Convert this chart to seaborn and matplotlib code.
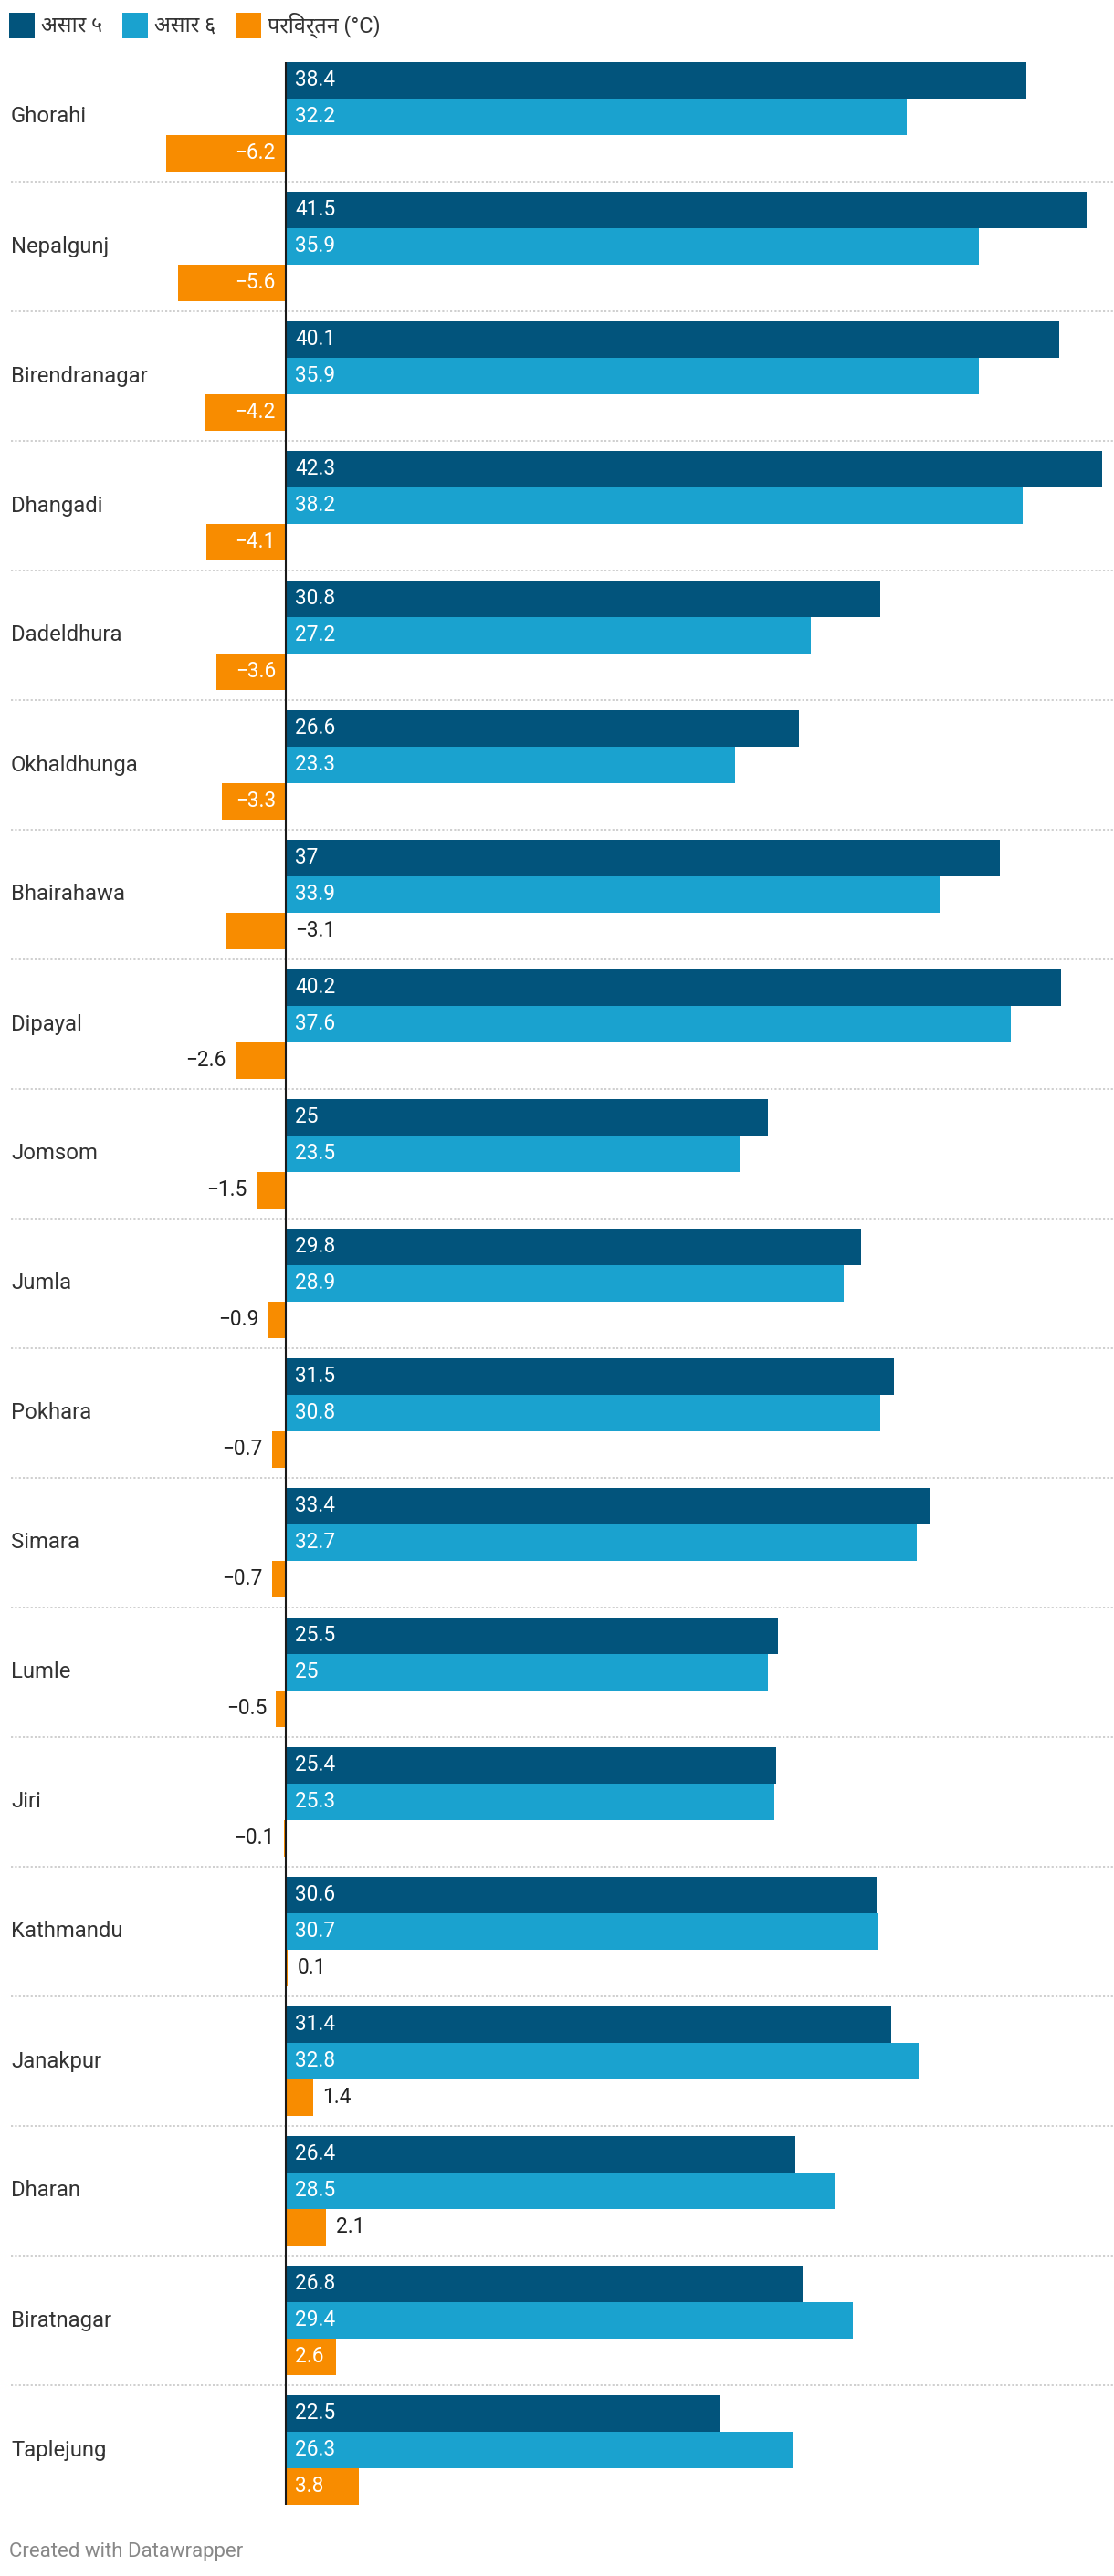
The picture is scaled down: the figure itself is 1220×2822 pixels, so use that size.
import matplotlib
matplotlib.use("Agg")
import matplotlib.pyplot as plt
from matplotlib.patches import Rectangle
import seaborn as sns
import pandas as pd

cities = ["Ghorahi", "Nepalgunj", "Birendranagar", "Dhangadi", "Dadeldhura", "Okhaldhunga",
          "Bhairahawa", "Dipayal", "Jomsom", "Jumla", "Pokhara", "Simara", "Lumle", "Jiri",
          "Kathmandu", "Janakpur", "Dharan", "Biratnagar", "Taplejung"]
asar5 = [38.4, 41.5, 40.1, 42.3, 30.8, 26.6, 37, 40.2, 25, 29.8, 31.5, 33.4, 25.5, 25.4,
         30.6, 31.4, 26.4, 26.8, 22.5]
asar6 = [32.2, 35.9, 35.9, 38.2, 27.2, 23.3, 33.9, 37.6, 23.5, 28.9, 30.8, 32.7, 25, 25.3,
         30.7, 32.8, 28.5, 29.4, 26.3]
change = [-6.2, -5.6, -4.2, -4.1, -3.6, -3.3, -3.1, -2.6, -1.5, -0.9, -0.7, -0.7, -0.5, -0.1,
          0.1, 1.4, 2.1, 2.6, 3.8]
series_names = ["असार ५", "असार ६", "परिवर्तन (°C)"]
colors = ["#02547c", "#1aa2cf", "#f88c00"]
footer = "Created with Datawrapper"

sns.set_theme(style="white")
FONT = ["Roboto", "Noto Sans", "DejaVu Sans"]
plt.rcParams["font.family"] = FONT

rows = []
for s, vals in zip(series_names, [asar5, asar6, change]):
    for c, v in zip(cities, vals):
        rows.append({"city": c, "value": v, "series": s})
df = pd.DataFrame(rows)

W, H = 1220, 2822
fig = plt.figure(figsize=(W / 100, H / 100), dpi=100)
ax = fig.add_axes([0, 0, 1, 1])

sns.barplot(data=df, y="city", x="value", hue="series", hue_order=series_names,
            order=cities, orient="h", palette=colors, saturation=1, width=120 / 142,
            gap=0, legend=False, ax=ax, linewidth=0, edgecolor="none", errorbar=None)

zero_px = 313
scale = 21.13
ax.set_xlim(-zero_px / scale, (W - zero_px) / scale)
pitch = 142
c0 = 128
ax.set_ylim((H - c0) / pitch, -c0 / pitch)
ax.axis("off")

n = len(cities)
# separators
ax.hlines([i + 0.5 for i in range(n - 1)], (12 - zero_px) / scale, (W - zero_px) / scale,
          colors="#cccccc", linewidth=1.3, linestyles=(0, (1.2, 1.2)), zorder=0.5)

def fmt(v):
    s = f"{abs(v):g}"
    return ("\u2212" + s) if v < 0 else s

VFS = 16.3
for ci, cont in enumerate(ax.containers):
    for bar, v in zip(cont.patches, [asar5, asar6, change][ci]):
        yc = bar.get_y() + bar.get_height() / 2
        if ci < 2:
            ax.annotate(fmt(v), (0, yc), xytext=(7.5, 0), textcoords="offset points",
                        ha="left", va="center", color="white", fontsize=VFS)
        else:
            if v <= -3.2:
                ax.annotate(fmt(v), (0, yc), xytext=(-8, 0), textcoords="offset points",
                            ha="right", va="center", color="white", fontsize=VFS)
            elif v < -3.0:
                ax.annotate(fmt(v), (0, yc), xytext=(7.5, 0), textcoords="offset points",
                            ha="left", va="center", color="#222222", fontsize=VFS)
            elif v < 0:
                ax.annotate(fmt(v), (v, yc), xytext=(-7.5, 0), textcoords="offset points",
                            ha="right", va="center", color="#222222", fontsize=VFS)
            elif v >= 2.5:
                ax.annotate(fmt(v), (0, yc), xytext=(7.5, 0), textcoords="offset points",
                            ha="left", va="center", color="white", fontsize=VFS)
            else:
                ax.annotate(fmt(v), (v, yc), xytext=(7.5, 0), textcoords="offset points",
                            ha="left", va="center", color="#222222", fontsize=VFS)

# zero line
half = (120 / 142) / 2
ax.vlines(0, -half, n - 1 + half, colors="#1a1a1a", linewidth=1.5, zorder=5)

# category labels
for i, c in enumerate(cities):
    ax.text((12 - zero_px) / scale, i, c, ha="left", va="center", fontsize=17.2,
            color="#333333")

# legend
lx = [10, 134, 258]
for x0, name, col in zip(lx, series_names, colors):
    fig.add_artist(Rectangle((x0 / W, 1 - 42 / H), 28 / W, 28 / H, transform=fig.transFigure,
                             facecolor=col, edgecolor="none"))
    fig.text((x0 + 35) / W, 1 - 28 / H, name, ha="left", va="center", fontsize=16.8,
             color="#333333")

fig.text(10 / W, 1 - 2796 / H, footer, ha="left", va="center", fontsize=16, color="#888888")

fig.savefig("out.png", dpi=100)
